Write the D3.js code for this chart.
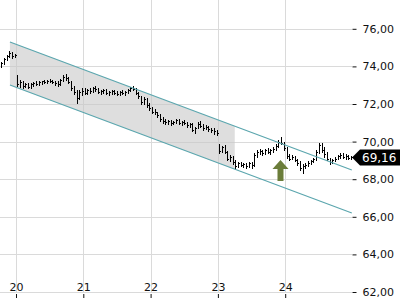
<!DOCTYPE html>
<html>
<head>
<meta charset="utf-8">
<script src="https://cdn.jsdelivr.net/npm/d3@7"></script>
<style>
  body { margin: 0; background: #fff; }
  svg { display: block; font-family: "DejaVu Sans", sans-serif; }
</style>
</head>
<body>
<svg id="chart" width="400" height="300"></svg>
<script>
// intraday bars per session: [open, high, low, close]
var barsPerDay = 25
var day19 = [ // last bars of the session only
  [74.05,74.25,73.95,74.20],[74.20,74.45,74.15,74.40],[74.40,74.60,74.35,74.55],
  [74.55,74.80,74.50,74.70],[74.70,74.75,74.45,74.55],[74.55,74.65,74.50,74.60]]
var day20 = [
  [73.45,73.55,72.95,73.05],[73.05,73.30,72.90,73.15],[73.15,73.20,72.85,72.95],
  [72.95,73.10,72.90,73.05],[73.05,73.10,72.85,72.90],[72.90,73.10,72.85,73.05],
  [73.05,73.15,72.95,73.10],[73.10,73.20,73.00,73.05],[73.05,73.20,73.00,73.15],
  [73.15,73.25,73.05,73.20],[73.20,73.30,73.10,73.15],[73.15,73.30,73.10,73.25],
  [73.25,73.35,73.15,73.20],[73.20,73.30,73.10,73.15],[73.15,73.25,73.00,73.10],
  [73.10,73.20,72.95,73.05],[73.05,73.35,73.00,73.30],[73.30,73.55,73.25,73.45],
  [73.45,73.60,73.30,73.40],[73.40,73.45,73.10,73.15],[73.15,73.20,72.75,72.85],
  [72.85,72.95,72.55,72.65],[72.65,72.75,72.05,72.30],[72.30,72.75,72.25,72.65],
  [72.65,72.85,72.50,72.70]]
var day21 = [
  [72.70,72.85,72.55,72.60],[72.60,72.80,72.55,72.75],[72.75,72.85,72.60,72.70],
  [72.70,72.90,72.65,72.85],[72.85,72.95,72.70,72.80],[72.80,72.85,72.60,72.65],
  [72.65,72.75,72.55,72.70],[72.70,72.80,72.60,72.75],[72.75,72.80,72.55,72.60],
  [72.60,72.70,72.50,72.65],[72.65,72.75,72.55,72.70],[72.70,72.75,72.55,72.60],
  [72.60,72.70,72.50,72.55],[72.55,72.70,72.50,72.65],[72.65,72.75,72.55,72.60],
  [72.60,72.70,72.50,72.65],[72.65,72.80,72.60,72.75],[72.75,72.90,72.70,72.85],
  [72.85,72.95,72.75,72.80],[72.80,72.85,72.55,72.60],[72.60,72.65,72.30,72.40],
  [72.40,72.45,72.00,72.10],[72.10,72.35,72.00,72.25],[72.25,72.30,71.85,71.95],
  [71.95,72.05,71.70,71.80]]
var day22 = [
  [71.80,71.85,71.50,71.60],[71.60,71.75,71.45,71.55],[71.55,71.60,71.30,71.40],
  [71.40,71.45,71.10,71.20],[71.20,71.30,71.00,71.10],[71.10,71.20,70.95,71.05],
  [71.05,71.15,70.95,71.10],[71.10,71.15,70.90,71.00],[71.00,71.10,70.95,71.05],
  [71.05,71.20,71.00,71.15],[71.15,71.20,70.95,71.00],[71.00,71.10,70.90,71.05],
  [71.05,71.15,70.95,71.00],[71.00,71.05,70.80,70.90],[70.90,71.00,70.80,70.95],
  [70.95,71.00,70.55,70.60],[70.60,70.80,70.45,70.75],[70.75,71.05,70.70,70.95],
  [70.95,71.10,70.80,70.85],[70.85,70.95,70.60,70.70],[70.70,70.90,70.65,70.80],
  [70.80,70.85,70.55,70.65],[70.65,70.75,70.50,70.60],[70.60,70.70,70.40,70.55],
  [70.55,70.60,70.35,70.45]]
var day23 = [
  [69.70,69.85,69.40,69.50],[69.50,69.75,69.45,69.70],[69.70,69.80,69.40,69.45],
  [69.45,69.50,69.00,69.10],[69.10,69.30,68.95,69.20],[69.20,69.25,68.80,68.90],
  [68.90,69.00,68.55,68.70],[68.70,68.90,68.65,68.85],[68.85,68.90,68.70,68.75],
  [68.75,68.85,68.65,68.80],[68.80,68.85,68.60,68.70],[68.70,68.90,68.65,68.85],
  [68.85,68.90,68.60,68.75],[68.75,69.40,68.70,69.30],[69.30,69.55,69.20,69.45],
  [69.45,69.60,69.35,69.50],[69.50,69.55,69.30,69.40],[69.40,69.60,69.35,69.55],
  [69.55,69.65,69.40,69.45],[69.45,69.60,69.35,69.55],[69.55,69.70,69.45,69.60],
  [69.60,69.85,69.55,69.75],[69.75,70.10,69.70,70.00],[70.00,70.25,69.85,69.95],
  [69.95,70.00,69.55,69.65]]
var day24 = [
  [69.65,69.70,69.15,69.25],[69.25,69.35,69.00,69.10],[69.10,69.30,69.05,69.20],
  [69.20,69.25,68.95,69.00],[69.00,69.05,68.75,68.85],[68.85,68.95,68.50,68.60],
  [68.60,68.80,68.35,68.70],[68.70,68.85,68.60,68.75],[68.75,68.95,68.70,68.85],
  [68.85,69.00,68.80,68.95],[68.95,69.15,68.90,69.05],[69.05,69.55,69.00,69.45],
  [69.45,69.95,69.40,69.80],[69.80,69.95,69.45,69.55],[69.55,69.70,69.20,69.35],
  [69.35,69.45,69.00,69.10],[69.10,69.15,68.80,68.90],[68.90,69.10,68.85,69.00],
  [69.00,69.20,68.95,69.10],[69.10,69.30,69.05,69.25],[69.25,69.40,69.15,69.30],
  [69.30,69.40,69.15,69.20],[69.20,69.35,69.10,69.25],[69.25,69.30,69.10,69.15],
  [69.15,69.25,69.05,69.16]]
var sessions = [[19, day19], [20, day20], [21, day21], [22, day22], [23, day23], [24, day24]]

var xTicks = [20, 21, 22, 23, 24]
var yTicks = [62, 64, 66, 68, 70, 72, 74, 76]
// trend channel: [day, price] end points
var channelUpper = [[19.91, 75.30], [24.99, 68.49]]
var channelLower = [[19.91, 73.01], [24.99, 66.20]]
var channelShadeEnd = 23.25
var buySignal = [23.93, 69.02]
var lastPrice = 69.16

var svg = d3.select("#chart")
var x = d3.scaleLinear().domain([20, 24]).range([16, 285.2])
var y = d3.scaleLinear().domain([62, 76]).range([292, 28.8])
var fmt = function (v) { return d3.format(".2f")(v).replace(".", ",") }

// grid
svg.append("g").selectAll("line").data(yTicks).join("line")
  .attr("x1", 0).attr("x2", 352)
  .attr("y1", function (d) { return Math.round(y(d)) + 0.5 })
  .attr("y2", function (d) { return Math.round(y(d)) + 0.5 })
  .attr("stroke", "#dadada")
svg.append("g").selectAll("line").data(xTicks).join("line")
  .attr("x1", function (d) { return Math.round(x(d)) + 0.5 })
  .attr("x2", function (d) { return Math.round(x(d)) + 0.5 })
  .attr("y1", 0).attr("y2", 292)
  .attr("stroke", "#dadada")

// shaded channel part
function lineAt(pts, d) {
  var t = (d - pts[0][0]) / (pts[1][0] - pts[0][0])
  return pts[0][1] + t * (pts[1][1] - pts[0][1])
}
var x0 = channelUpper[0][0]
var shade = [[x0, channelUpper[0][1]], [channelShadeEnd, lineAt(channelUpper, channelShadeEnd)],
             [channelShadeEnd, lineAt(channelLower, channelShadeEnd)], [x0, channelLower[0][1]]]
svg.append("path")
  .attr("d", d3.line().x(function (p) { return x(p[0]) }).y(function (p) { return y(p[1]) })(shade) + "Z")
  .attr("fill", "#c8c8c8").attr("fill-opacity", 0.6)

// OHLC bars
var bars = []
sessions.forEach(function (s) {
  var start = barsPerDay - s[1].length
  s[1].forEach(function (b, i) { bars.push({ t: s[0] + (start + i + 0.5) / barsPerDay, o: b[0], h: b[1], l: b[2], c: b[3] }) })
})
var g = svg.append("g").attr("stroke", "#000").attr("shape-rendering", "crispEdges")
bars.forEach(function (b) {
  var cx = Math.round(x(b.t)) + 0.5
  g.append("line").attr("x1", cx).attr("x2", cx).attr("y1", y(b.h)).attr("y2", y(b.l) + 1)
  g.append("line").attr("x1", cx - 1).attr("x2", cx).attr("y1", Math.round(y(b.o)) + 0.5).attr("y2", Math.round(y(b.o)) + 0.5)
  g.append("line").attr("x1", cx).attr("x2", cx + 1.5).attr("y1", Math.round(y(b.c)) + 0.5).attr("y2", Math.round(y(b.c)) + 0.5)
})

// channel lines
;[channelUpper, channelLower].forEach(function (pts) {
  svg.append("line")
    .attr("x1", x(pts[0][0])).attr("y1", y(pts[0][1]))
    .attr("x2", x(pts[1][0])).attr("y2", y(pts[1][1]))
    .attr("stroke", "#5ba6ae").attr("stroke-width", 1.2)
})

// buy arrow
var ax = x(buySignal[0]), ay = y(buySignal[1])
svg.append("path")
  .attr("d", "M" + ax + "," + ay + "l8,9h-5v12h-6v-12h-5z")
  .attr("fill", "#6b7d3a")

// y axis
var yAxis = d3.axisRight(y).tickValues(yTicks).tickSize(4).tickPadding(6).tickFormat(fmt)
var ya = svg.append("g").attr("transform", "translate(352.5,0)").call(yAxis)
ya.select(".domain").remove()
ya.selectAll("text").attr("font-size", 11).attr("font-family", "DejaVu Sans").attr("fill", "#111")
ya.selectAll("line").attr("stroke", "#111")

// x axis
var xAxis = d3.axisBottom(x).tickValues(xTicks).tickSize(4).tickFormat(d3.format("d"))
var xa = svg.append("g").attr("transform", "translate(0,294)").call(xAxis)
xa.select(".domain").remove()
xa.selectAll("text").attr("y", -11).attr("font-size", 11).attr("font-family", "DejaVu Sans").attr("fill", "#111")
xa.selectAll("line").attr("stroke", "#111")

// last price tag
var ly = y(lastPrice)
svg.append("path")
  .attr("d", "M352," + ly + "l8,-8h40v16h-40z")
  .attr("fill", "#000")
svg.append("text")
  .attr("x", 362).attr("y", ly).attr("dy", "0.36em")
  .attr("font-size", 12).attr("fill", "#fff")
  .text(fmt(lastPrice))
</script>
</body>
</html>
